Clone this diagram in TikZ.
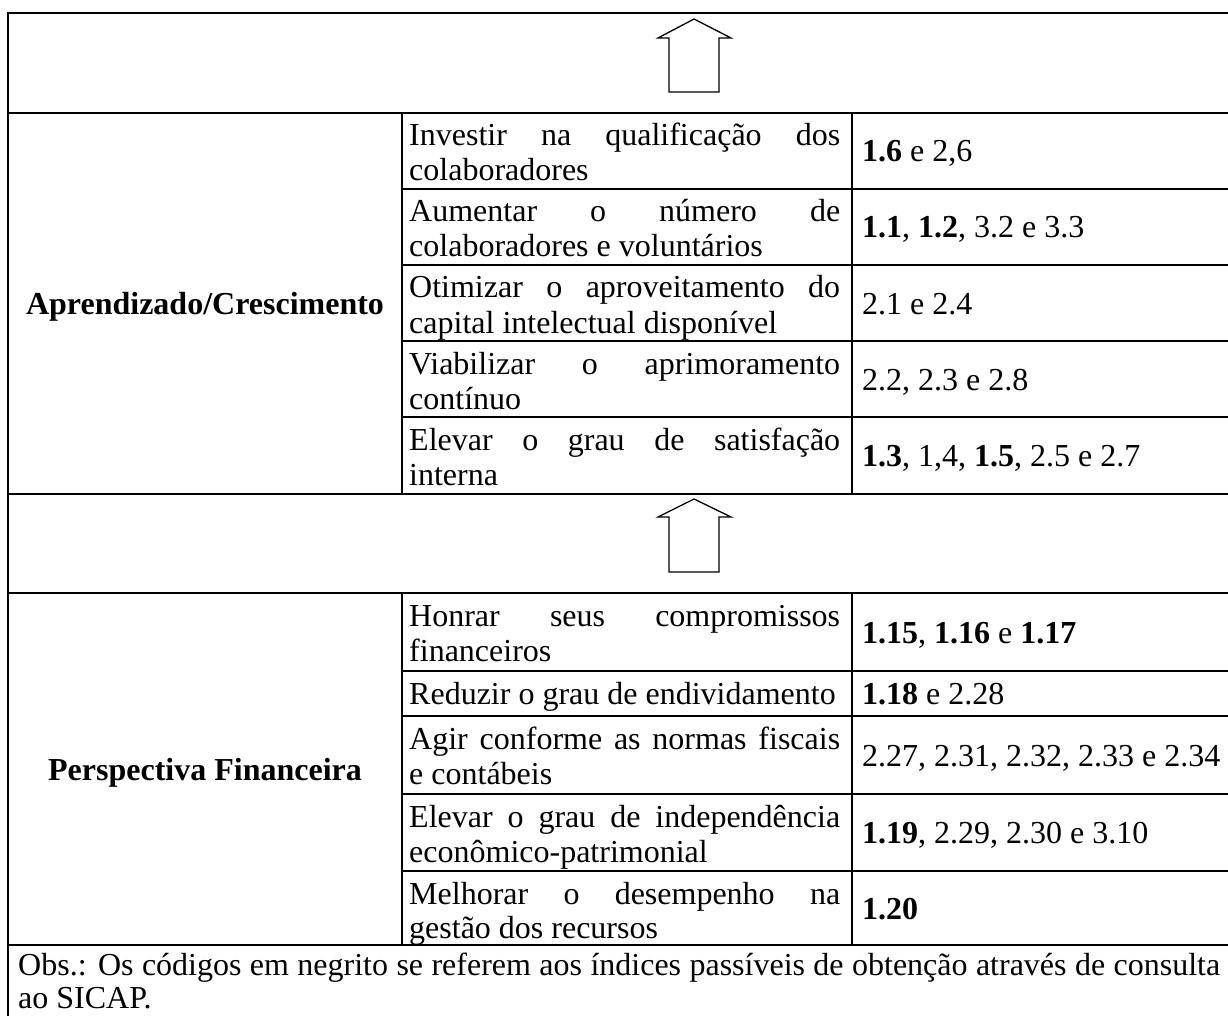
\documentclass[tikz,border=0pt]{standalone}
\usepackage{fontspec}
\setmainfont{Liberation Serif}
\begin{document}
\begin{tikzpicture}[x=1pt,y=-1pt,
  grid/.style={line width=2pt},
  arr/.style={line width=1.3pt, line join=miter},
  txt/.style={anchor=base west, inner sep=0pt, font=\fontsize{32}{35}\selectfont},
  head/.style={anchor=base, inner sep=0pt, font=\fontsize{32}{35}\selectfont\bfseries}]
\useasboundingbox (0,0) rectangle (1228,1016);
\newcommand{\jl}[1]{\makebox[431pt][s]{#1}}
% grid
\draw[grid] (1232,13) -- (8,13) -- (8,1020);
\foreach \y in {113,494,593,945} \draw[grid] (8,\y) -- (1232,\y);
\foreach \y in {189,265,341,417,671,716,794,871} \draw[grid] (402,\y) -- (1232,\y);
\draw[grid] (402,113) -- (402,494) (852,113) -- (852,494);
\draw[grid] (402,593) -- (402,945) (852,593) -- (852,945);
% arrows
\draw[arr] (669,92) -- (669,38) -- (658,38) -- (694,19) -- (731,38) -- (719,38) -- (719,92) -- cycle;
\draw[arr] (669,572) -- (669,517) -- (658,517) -- (694,499) -- (731,517) -- (719,517) -- (719,572) -- cycle;
% column 1
\node[head] (persA) at (205,314.5) {Aprendizado/Crescimento};
\node[head] (persF) at (205,780) {Perspectiva Financeira};
% section 1, column 2
\node[txt] (a1a) at (409,146) {\jl{Investir na qualificação dos}};
\node[txt] (a1b) at (409,181) {colaboradores};
\node[txt] (a2a) at (409,222) {\jl{Aumentar o número de}};
\node[txt] (a2b) at (409,257) {colaboradores e voluntários};
\node[txt] (a3a) at (409,298) {\jl{Otimizar o aproveitamento do}};
\node[txt] (a3b) at (409,333) {capital intelectual disponível};
\node[txt] (a4a) at (409,374) {\jl{Viabilizar o aprimoramento}};
\node[txt] (a4b) at (409,409) {contínuo};
\node[txt] (a5a) at (409,450) {\jl{Elevar o grau de satisfação}};
\node[txt] (a5b) at (409,485) {interna};
% section 1, column 3
\node[txt] (c1) at (862,162) {\textbf{1.6} e 2,6};
\node[txt] (c2) at (862,238) {\textbf{1.1}, \textbf{1.2}, 3.2 e 3.3};
\node[txt] (c3) at (862,314) {2.1 e 2.4};
\node[txt] (c4) at (862,390) {2.2, 2.3 e 2.8};
\node[txt] (c5) at (862,466) {\textbf{1.3}, 1,4, \textbf{1.5}, 2.5 e 2.7};
% section 2, column 2
\node[txt] (f1a) at (409,626) {\jl{Honrar seus compromissos}};
\node[txt] (f1b) at (409,661) {financeiros};
\node[txt] (f2a) at (409,704) {Reduzir o grau de endividamento};
\node[txt] (f3a) at (409,749) {\jl{Agir conforme as normas fiscais}};
\node[txt] (f3b) at (409,784) {e contábeis};
\node[txt] (f4a) at (409,827) {\jl{Elevar o grau de independência}};
\node[txt] (f4b) at (409,862) {econômico-patrimonial};
\node[txt] (f5a) at (409,904) {\jl{Melhorar o desempenho na}};
\node[txt] (f5b) at (409,938) {gestão dos recursos};
% section 2, column 3
\node[txt] (d1) at (862,643) {\textbf{1.15}, \textbf{1.16} e \textbf{1.17}};
\node[txt] (d2) at (862,704.5) {\textbf{1.18} e 2.28};
\node[txt] (d3) at (862,766) {2.27, 2.31, 2.32, 2.33 e 2.34};
\node[txt] (d4) at (862,843.5) {\textbf{1.19}, 2.29, 2.30 e 3.10};
\node[txt] (d5) at (862,919) {\textbf{1.20}};
% observation
\node[txt] (obs1) at (18,975) {\makebox[1202pt][s]{Obs.: Os códigos em negrito se referem aos índices passíveis de obtenção através de consulta}};
\node[txt] (obs2) at (18,1008) {ao SICAP.};
\end{tikzpicture}
\end{document}
